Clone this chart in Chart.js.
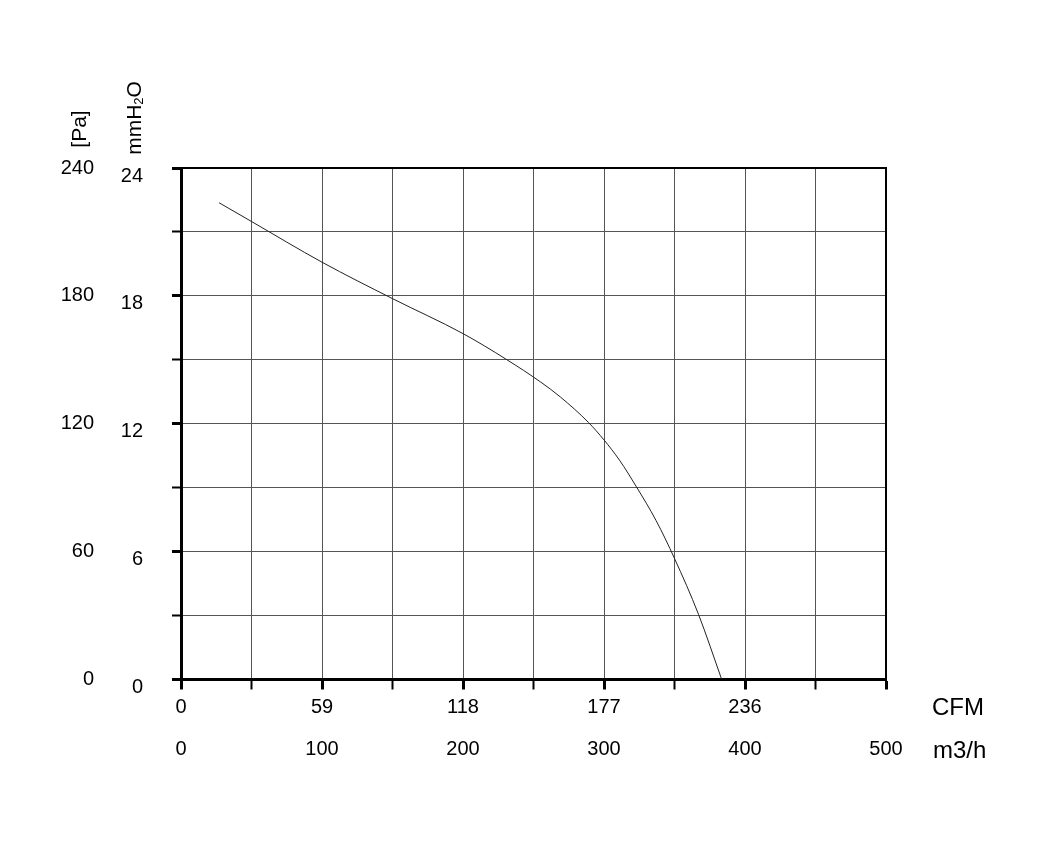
<!DOCTYPE html>
<html>
<head>
<meta charset="utf-8">
<title>Fan curve</title>
<script src="https://cdn.jsdelivr.net/npm/chart.js@4.4.1/dist/chart.umd.min.js"></script>
<style>
  body { margin: 0; background: #fff; }
  canvas { display: block; }
</style>
</head>
<body>
<canvas id="myChart" width="1050" height="851"></canvas>
<script>
// airflow in m3/h and static pressure in mmH2O
const flowM3h = [27, 50, 100, 150, 200, 231, 255, 269, 289, 300, 311, 323, 337, 350, 367, 383.5];
const pressureMm = [22.37, 21.49, 19.58, 17.87, 16.23, 15.01, 13.96, 13.26, 12.06, 11.24, 10.29, 9.04, 7.45, 5.68, 3.06, 0];

// tick labels
const m3hLabels = ["0", "100", "200", "300", "400", "500"];
const cfmLabels = ["0", "59", "118", "177", "236", ""];
const mmLabels = ["0", "6", "12", "18", "24"];
const paLabels = ["0", "60", "120", "180", "240"];

const FONT = "'Liberation Sans', Arial, sans-serif";

// frame + side titles (CFM, m3/h, [Pa], mmH2O)
const extras = {
  id: "extras",
  afterDraw(chart) {
    const { ctx, chartArea: a } = chart;
    ctx.save();
    ctx.strokeStyle = "#000";
    ctx.lineWidth = 2;
    ctx.beginPath();
    ctx.moveTo(a.left, a.top);
    ctx.lineTo(a.right, a.top);
    ctx.lineTo(a.right, a.bottom);
    ctx.stroke();

    ctx.fillStyle = "#000";
    ctx.font = "24px " + FONT;
    ctx.textAlign = "left";
    ctx.textBaseline = "middle";
    ctx.fillText("CFM", a.right + 46, a.bottom + 29);
    ctx.fillText("m3/h", a.right + 47, a.bottom + 72);

    // [Pa]
    ctx.save();
    ctx.translate(chart.scales.pa.left + 80, a.top - 39);
    ctx.rotate(-Math.PI / 2);
    ctx.font = "21px " + FONT;
    ctx.textAlign = "center";
    ctx.fillText("[Pa]", 0, 0);
    ctx.restore();

    // mmH2O with subscript
    ctx.save();
    ctx.translate(chart.scales.pa.left + 135, a.top - 50);
    ctx.rotate(-Math.PI / 2);
    const big = "21px " + FONT, small = "13px " + FONT;
    ctx.font = big;
    const w1 = ctx.measureText("mmH").width, w3 = ctx.measureText("O").width;
    ctx.font = small;
    const w2 = ctx.measureText("2").width;
    let x = -(w1 + w2 + w3) / 2;
    ctx.textAlign = "left";
    ctx.font = big;
    ctx.fillText("mmH", x, 0);
    x += w1;
    ctx.font = small;
    ctx.fillText("2", x, 4);
    x += w2;
    ctx.font = big;
    ctx.fillText("O", x, 0);
    ctx.restore();

    ctx.restore();
  }
};

const ctx = document.getElementById("myChart");
const myChart = new Chart(ctx, {
  type: "line",
  data: {
    datasets: [
      {
        data: flowM3h.map((v, i) => ({ x: v, y: pressureMm[i] })),
        borderColor: "#222",
        borderWidth: 1,
        pointRadius: 0,
        cubicInterpolationMode: "monotone",
        xAxisID: "x",
        yAxisID: "y",
      },
    ],
  },
  options: {
    responsive: false,
    animation: false,
    devicePixelRatio: 1,
    layout: { padding: { top: 168, right: 164, bottom: 70, left: 0 } },
    plugins: {
      legend: { display: false },
      tooltip: { enabled: false },
    },
    scales: {
      cfm: {
        type: "linear",
        position: "bottom",
        weight: 0,
        min: 0,
        max: 500,
        afterFit: (s) => { s.height = 41.5; },
        grid: {
          color: "#555",
          lineWidth: 1,
          tickLength: 10,
          tickColor: "#000",
          tickWidth: (c) => (c.tick && c.tick.value % 100 === 0 ? 3 : 2),
        },
        border: { color: "#000", width: 3 },
        ticks: {
          stepSize: 50,
          autoSkip: false,
          maxRotation: 0,
          padding: 6,
          color: "#000",
          font: { family: FONT, size: 20 },
          callback: (v) => (v % 100 === 0 ? cfmLabels[v / 100] : ""),
        },
      },
      x: {
        type: "linear",
        position: "bottom",
        weight: 1,
        min: 0,
        max: 500,
        afterFit: (s) => { s.height = 60; },
        grid: { display: false, drawTicks: false },
        border: { display: false },
        ticks: {
          stepSize: 100,
          autoSkip: false,
          maxRotation: 0,
          padding: 16,
          color: "#000",
          font: { family: FONT, size: 20 },
          callback: (v) => m3hLabels[v / 100],
        },
      },
      y: {
        type: "linear",
        position: "left",
        weight: 0,
        min: 0,
        max: 24,
        afterFit: (s) => { s.width = 81; },
        grid: {
          color: "#555",
          lineWidth: 1,
          tickLength: 9,
          tickColor: "#000",
          tickWidth: (c) => (c.tick && c.tick.value % 6 === 0 ? 3 : 2),
        },
        border: { color: "#000", width: 3 },
        ticks: {
          stepSize: 3,
          autoSkip: false,
          padding: 29,
          labelOffset: 8,
          color: "#000",
          font: { family: FONT, size: 20 },
          callback: (v) => (v % 6 === 0 ? mmLabels[v / 6] : ""),
        },
      },
      pa: {
        type: "linear",
        position: "left",
        weight: 1,
        min: 0,
        max: 240,
        afterFit: (s) => { s.width = 100; },
        grid: { display: false, drawTicks: false },
        border: { display: false },
        ticks: {
          stepSize: 30,
          autoSkip: false,
          padding: 6,
          color: "#000",
          font: { family: FONT, size: 20 },
          callback: (v) => (v % 60 === 0 ? paLabels[v / 60] : ""),
        },
      },
    },
  },
  plugins: [extras],
});
</script>
</body>
</html>
